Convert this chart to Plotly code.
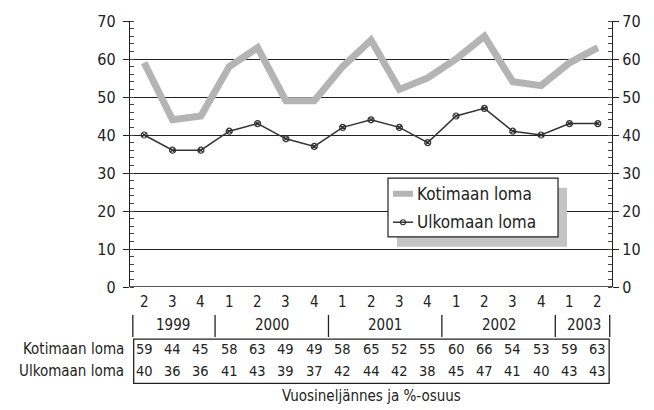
import plotly.graph_objects as go

quarters = ["2", "3", "4", "1", "2", "3", "4", "1", "2", "3", "4", "1", "2", "3", "4", "1", "2"]
years = ["1999", "2000", "2001", "2002", "2003"]
year_counts = [3, 4, 4, 4, 2]
kotimaan = [59, 44, 45, 58, 63, 49, 49, 58, 65, 52, 55, 60, 66, 54, 53, 59, 63]
ulkomaan = [40, 36, 36, 41, 43, 39, 37, 42, 44, 42, 38, 45, 47, 41, 40, 43, 43]
name_k = "Kotimaan loma"
name_u = "Ulkomaan loma"
x_title = "Vuosineljännes ja %-osuus"

FONT = "DejaVu Sans Condensed, Liberation Sans Narrow, sans-serif"
GRAY_K = "#b4b4b4"
DARK = "#333333"

idx = list(range(len(quarters)))
fig = go.Figure()
fig.add_trace(go.Scatter(x=idx, y=kotimaan, mode="lines", name=name_k,
                         line=dict(color=GRAY_K, width=7), showlegend=False))
fig.add_trace(go.Scatter(x=idx, y=ulkomaan, mode="lines+markers", name=name_u,
                         line=dict(color=DARK, width=1.5),
                         marker=dict(symbol="circle-x-open", size=6, color=DARK, line=dict(width=1.2)),
                         showlegend=False))
fig.add_trace(go.Scatter(x=[0], y=[0], yaxis="y2", mode="markers", opacity=0,
                         showlegend=False, hoverinfo="skip"))

n = len(quarters)
fig.update_layout(
    width=654, height=410,
    margin=dict(l=130, r=42, t=16, b=123),
    paper_bgcolor="white", plot_bgcolor="white",
    font=dict(family=FONT, color="#222", size=15),
    xaxis=dict(range=[-0.5, n - 0.5], showticklabels=False, showgrid=False,
               zeroline=False, showline=False, ticks=""),
    yaxis=dict(range=[0, 70], dtick=10, showgrid=True, gridcolor="#222", gridwidth=1.3,
               zeroline=False, showline=True, linecolor="#222", linewidth=1.3,
               ticks="outside", ticklen=6, tickcolor="#222", tickwidth=1.3,
               tickfont=dict(size=16), ticklabelstandoff=4,
               minor=dict(dtick=2, ticks="inside", ticklen=4, tickcolor="#444", showgrid=False)),
    yaxis2=dict(range=[0, 70], dtick=10, overlaying="y", side="right", showgrid=False,
                zeroline=False, showline=True, linecolor="#222", linewidth=1.3,
                ticks="outside", ticklen=6, tickcolor="#222", tickwidth=1.3,
                tickfont=dict(size=16), ticklabelstandoff=0,
                minor=dict(dtick=2, ticks="inside", ticklen=4, tickcolor="#444", showgrid=False)),
)

shapes = []
annotations = []
shapes.append(dict(type="line", xref="paper", yref="y", x0=0, x1=1, y0=0, y1=0,
                   line=dict(color="#222", width=1.5)))

for i, q in enumerate(quarters):
    annotations.append(dict(x=i, y=-0.055, xref="x", yref="paper", text=q, showarrow=False,
                            font=dict(size=15), yanchor="middle"))
start = 0
seps = [-0.4]
for yr, c in zip(years, year_counts):
    center = start + (c - 1) / 2
    annotations.append(dict(x=center, y=-0.144, xref="x", yref="paper", text=yr, showarrow=False,
                            font=dict(size=15), yanchor="middle"))
    start += c
    seps.append(start - 0.5 if start < n else 16.42)
for s in seps:
    shapes.append(dict(type="line", xref="x", yref="paper", x0=s, x1=s, y0=-0.105, y1=-0.188,
                       line=dict(color="#222", width=1.3)))
shapes.append(dict(type="rect", xref="x", yref="paper", x0=-0.37, x1=16.4, y0=-0.196, y1=-0.362,
                   line=dict(color="#222", width=1.3)))
for i in idx:
    annotations.append(dict(x=i, y=-0.232, xref="x", yref="paper", text=str(kotimaan[i]),
                            showarrow=False, font=dict(size=14.5), yanchor="middle"))
    annotations.append(dict(x=i, y=-0.314, xref="x", yref="paper", text=str(ulkomaan[i]),
                            showarrow=False, font=dict(size=14.5), yanchor="middle"))
annotations.append(dict(x=-0.008, y=-0.232, xref="paper", yref="paper", text=name_k, showarrow=False,
                        xanchor="right", yanchor="middle", font=dict(size=15)))
annotations.append(dict(x=-0.008, y=-0.314, xref="paper", yref="paper", text=name_u, showarrow=False,
                        xanchor="right", yanchor="middle", font=dict(size=15)))
annotations.append(dict(x=0.5, y=-0.41, xref="paper", yref="paper", text=x_title, showarrow=False,
                        yanchor="middle", font=dict(size=15)))

def px(xp):
    return (xp - 130) / 482
def py(yp):
    return (287 - yp) / 271

shapes.append(dict(type="rect", xref="paper", yref="paper", x0=px(397), x1=px(567), y0=py(246), y1=py(186),
                   fillcolor="#c4c4c4", line=dict(width=0), layer="above"))
shapes.append(dict(type="rect", xref="paper", yref="paper", x0=px(388), x1=px(558), y0=py(236), y1=py(176),
                   fillcolor="white", line=dict(color="#222", width=1.2), layer="above"))
shapes.append(dict(type="line", xref="paper", yref="paper", x0=px(393), x1=px(413), y0=py(192), y1=py(192),
                   line=dict(color=GRAY_K, width=6), layer="above"))
shapes.append(dict(type="line", xref="paper", yref="paper", x0=px(393), x1=px(413), y0=py(221), y1=py(221),
                   line=dict(color=DARK, width=1.5), layer="above"))
shapes.append(dict(type="circle", xref="paper", yref="paper", x0=px(400.5), x1=px(405.5), y0=py(223.5), y1=py(218.5),
                   line=dict(color=DARK, width=1.2), layer="above"))
annotations.append(dict(x=px(415), y=py(192), xref="paper", yref="paper", text=name_k, showarrow=False,
                        xanchor="left", yanchor="middle", font=dict(size=17)))
annotations.append(dict(x=px(415), y=py(221), xref="paper", yref="paper", text=name_u, showarrow=False,
                        xanchor="left", yanchor="middle", font=dict(size=17)))

fig.update_layout(shapes=shapes, annotations=annotations)
fig.write_html("out.html", config={"displayModeBar": False},
               post_script="document.body.style.margin='0';document.body.style.padding='0';")
